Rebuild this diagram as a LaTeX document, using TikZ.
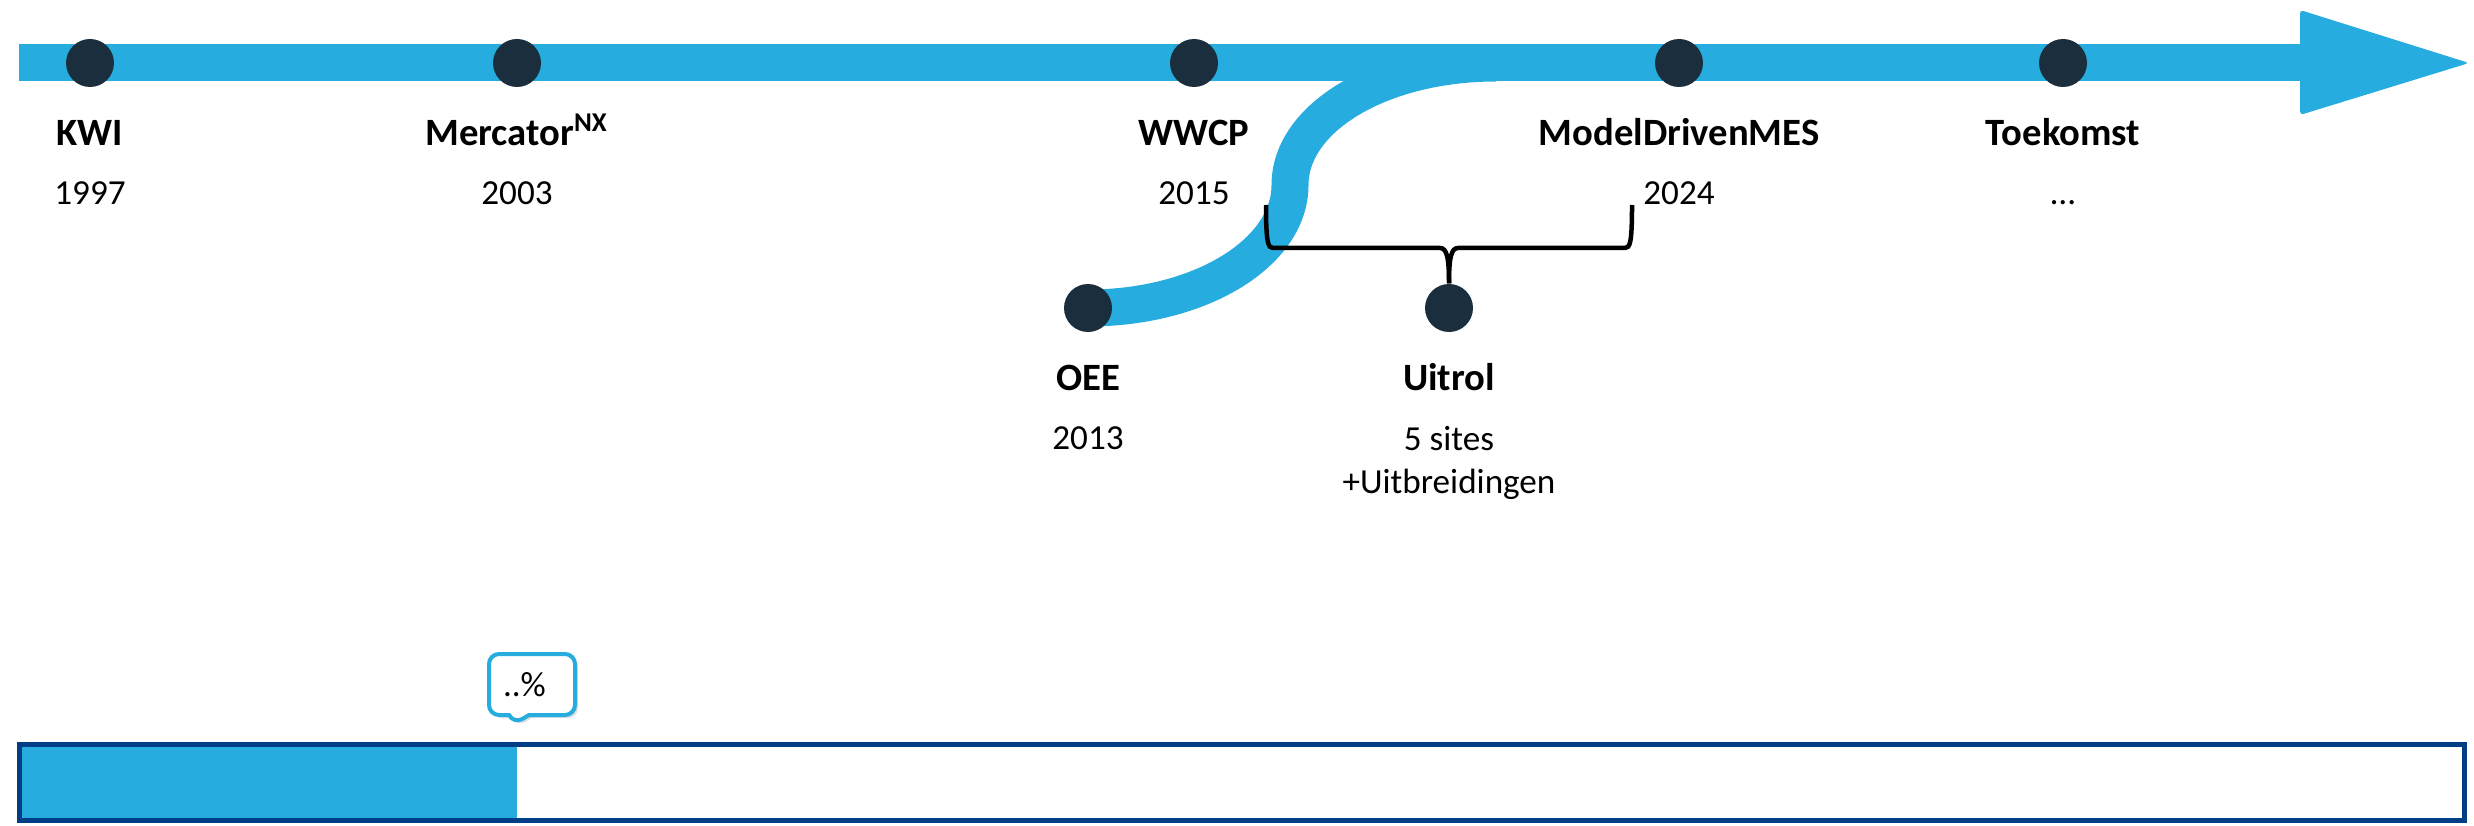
\documentclass[tikz,border=0pt]{standalone}
\usepackage{fontspec}
\setmainfont{Carlito}
\usetikzlibrary{shapes.geometric, shapes.callouts, arrows, shadows}
\definecolor{lineblue}{HTML}{27ACDF}
\definecolor{dotnavy}{HTML}{1A2E3D}
\definecolor{barnavy}{HTML}{003D87}
\pgfdeclarelayer{background}
\pgfsetlayers{background,main}
\tikzstyle{milestone} = [circle, fill=dotnavy, minimum size=0.48cm, inner sep=0pt]
\tikzstyle{title} = [font=\fontsize{11}{13}\selectfont\bfseries, inner sep=0pt, text height=7.1pt, text depth=0pt]
\tikzstyle{year} = [font=\fontsize{10}{12}\selectfont, inner sep=0pt, text height=6.3pt, text depth=0pt]
\tikzstyle{note} = [font=\fontsize{10}{12}\selectfont, inner sep=0pt, align=center]
\tikzstyle{track} = [draw=lineblue, line width=0.37cm]
\tikzstyle{bracelines} = [draw=black, line width=0.045cm]
\tikzstyle{pctbox} = [rectangle callout, rounded corners=0.1cm, draw=lineblue, line width=0.04cm, fill=white, minimum width=0.86cm, minimum height=0.61cm, text width=0.58cm, align=left, font=\fontsize{10}{12}\selectfont, callout pointer width=0.2cm, drop shadow={shadow xshift=0.03cm, shadow yshift=-0.03cm, opacity=0.25}]

\begin{document}
\begin{tikzpicture}[x=1cm,y=1cm, node distance=0.7cm]
\useasboundingbox (0,0) rectangle (24.74,8.25);
%%%%% TIMELINE POINTS
\coordinate (tlstart) at (0.19,7.62);
\coordinate (tlend) at (23.01,7.62);
\coordinate (merge) at (14.96,7.62);
\node (kwi) [milestone] at (0.90,7.62) {};
\node (merc) [milestone] at (5.17,7.62) {};
\node (wwcp) [milestone] at (11.94,7.62) {};
\node (mdm) [milestone] at (16.79,7.62) {};
\node (toek) [milestone] at (20.63,7.62) {};
\node (oee) [milestone] at (10.88,5.17) {};
\node (uit) [milestone] at (14.49,5.17) {};

%%%%% LABELS
\node (kwit) [title, below of=kwi] {KWI};
\node (kwiy) [year, below of=kwit, node distance=0.6cm] {1997};
\node (merct) [title, below of=merc] {Mercator\textsuperscript{NX}};
\node (mercy) [year, below of=merct, node distance=0.6cm] {2003};
\node (wwcpt) [title, below of=wwcp] {WWCP};
\node (wwcpy) [year, below of=wwcpt, node distance=0.6cm] {2015};
\node (mdmt) [title, below of=mdm] {ModelDrivenMES};
\node (mdmy) [year, below of=mdmt, node distance=0.6cm] {2024};
\node (toekt) [title, below of=toek] {Toekomst};
\node (toeky) [year, below of=toekt, node distance=0.6cm] {\ldots};
\node (oeet) [title, below of=oee] {OEE};
\node (oeey) [year, below of=oeet, node distance=0.6cm] {2013};
\node (uitt) [title, below of=uit] {Uitrol};
\node (uity) [note, below of=uitt, node distance=0.85cm] {5 sites\\+Uitbreidingen};

%%%%% TRACKS (behind the dots)
\begin{pgfonlayer}{background}
\draw [track] (tlstart) -- (tlend);
\fill [lineblue, rounded corners=1pt] (23.00,8.15) -- (24.69,7.62) -- (23.00,7.10) -- cycle;
\draw [track] (oee.center) .. controls +(1.12,0) and +(0,-0.68) .. (12.90,6.40)
  .. controls +(0,0.68) and +(-1.14,0) .. (merge);
\end{pgfonlayer}

%%%%% BRACE
\coordinate (bracel) at (12.66,6.20);
\coordinate (bracer) at (16.32,6.20);
\draw [bracelines] (bracel) .. controls +(0,-0.38) and +(-0.05,0) .. ++(0.07,-0.43)
  -- (14.40,5.77) .. controls +(0.07,0) and +(0,0.25) .. (uit.north);
\draw [bracelines] (bracer) .. controls +(0,-0.38) and +(0.05,0) .. ++(-0.07,-0.43)
  -- (14.58,5.77) .. controls +(-0.07,0) and +(0,0.25) .. (uit.north);

%%%%% PROGRESS BAR
\fill [lineblue] (0.21,0.06) rectangle (5.17,0.79);
\draw [barnavy, line width=0.05cm] (0.195,0.045) rectangle (24.64,0.805);
\node (pct) [pctbox, callout absolute pointer={(5.14,1.01)}] at (5.32,1.405) {..\%};
\end{tikzpicture}
\end{document}
